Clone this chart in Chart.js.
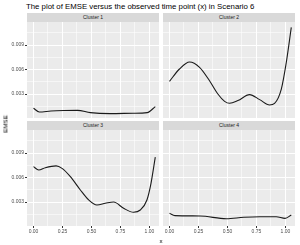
<!DOCTYPE html>
<html>
<head>
<meta charset="utf-8">
<script src="https://cdn.jsdelivr.net/npm/chart.js@4"></script>
<style>
  body { margin: 0; width: 300px; height: 245px; background: #fff; position: relative; overflow: hidden;
         font-family: "Liberation Sans", Arial, sans-serif; }
  canvas { position: absolute; }
  .strip { position: absolute; width: 132px; height: 9px; line-height: 9px; background: #D9D9D9;
           color: #1A1A1A; font-size: 5px; text-align: center; }
  #title { position: absolute; left: 26px; top: 2px; font-size: 7.8px; color: #000; white-space: nowrap; }
  #ylab { position: absolute; left: 4.5px; top: 124px; font-size: 6.2px; color: #000;
          transform: translate(-50%, -50%) rotate(-90deg); white-space: nowrap; }
  #xlab { position: absolute; left: 161px; top: 240px; font-size: 6.2px; color: #000;
          transform: translate(-50%, -50%); }
</style>
</head>
<body>
<div id="title">The plot of EMSE versus the observed time point (x) in Scenario 6</div>
<div class="strip" id="s1" style="left:27px;top:13px"></div>
<div class="strip" id="s2" style="left:163px;top:13px"></div>
<div class="strip" id="s3" style="left:27px;top:121px"></div>
<div class="strip" id="s4" style="left:163px;top:121px"></div>
<canvas id="p1" width="159" height="96" style="left:0;top:22px"></canvas>
<canvas id="p2" width="132" height="96" style="left:163px;top:22px"></canvas>
<canvas id="p3" width="159" height="115" style="left:0;top:130px"></canvas>
<canvas id="p4" width="132" height="115" style="left:163px;top:130px"></canvas>
<div id="ylab">EMSE</div>
<div id="xlab">x</div>
<script>
// тики осей
const xMajor = [0, 0.25, 0.5, 0.75, 1];
const xLabels = ['0.00', '0.25', '0.50', '0.75', '1.00'];
const xMinor = [0.125, 0.375, 0.625, 0.875];
const yMajor = [0.003, 0.006, 0.009];
const yLabels = ['0.003', '0.006', '0.009'];
const yMinor = [0.0015, 0.0045, 0.0075, 0.0105];

const clusters = ['Cluster 1', 'Cluster 2', 'Cluster 3', 'Cluster 4'];

// кривые по кластерам
const c1x = [0, 0.05, 0.15, 0.26, 0.38, 0.49, 0.66, 0.86, 0.98, 1.05];
const c1y = [0.00125, 0.0008, 0.00092, 0.00098, 0.001, 0.00072, 0.0006, 0.00064, 0.00072, 0.00145];

const c2x = [0, 0.086, 0.173, 0.259, 0.345, 0.417, 0.475, 0.518, 0.59, 0.69, 0.777, 0.863, 0.906, 0.964, 1.007, 1.05];
const c2y = [0.00455, 0.00606, 0.00692, 0.00627, 0.00463, 0.003, 0.0021, 0.00186, 0.00219, 0.00292, 0.00231, 0.00166, 0.00186, 0.00361, 0.00688, 0.01116];

const c3x = [0, 0.045, 0.102, 0.195, 0.246, 0.318, 0.404, 0.476, 0.547, 0.619, 0.691, 0.777, 0.863, 0.921, 0.978, 1.013, 1.05];
const c3y = [0.00733, 0.00692, 0.0072, 0.00742, 0.00712, 0.0061, 0.00447, 0.00325, 0.00264, 0.00284, 0.003, 0.00223, 0.00174, 0.00202, 0.00325, 0.00529, 0.0085];

const c4x = [0, 0.047, 0.263, 0.49, 0.64, 0.78, 0.92, 0.996, 1.05];
const c4y = [0.00162, 0.00133, 0.00129, 0.00095, 0.00113, 0.0012, 0.0012, 0.001, 0.00141];

clusters.forEach((name, i) => { document.getElementById('s' + (i + 1)).innerText = name; });

const panelBg = {
  id: 'panelBg',
  beforeDraw(chart) {
    const a = chart.chartArea, ctx = chart.ctx;
    ctx.save();
    ctx.fillStyle = '#EBEBEB';
    ctx.fillRect(a.left, a.top, a.right - a.left, a.bottom - a.top);
    ctx.restore();
  }
};

function isMajor(v, list) {
  return list.some(m => Math.abs(m - v) < 1e-9);
}

function tickFont() {
  return { family: "'Liberation Sans', Arial, sans-serif", size: 5 };
}

function makePanel(id, xs, ys, showX, showY) {
  const pts = xs.map((x, i) => ({ x: x, y: ys[i] }));
  return new Chart(document.getElementById(id), {
    type: 'line',
    data: {
      datasets: [{
        data: pts,
        borderColor: '#1A1A1A',
        borderWidth: 1.1,
        pointRadius: 0,
        cubicInterpolationMode: 'monotone',
        fill: false
      }]
    },
    options: {
      responsive: false,
      animation: false,
      events: [],
      layout: { padding: 0 },
      plugins: { legend: { display: false }, tooltip: { enabled: false } },
      scales: {
        x: {
          type: 'linear',
          min: -0.056,
          max: 1.082,
          afterBuildTicks: s => { s.ticks = xMajor.concat(xMinor).sort((a, b) => a - b).map(v => ({ value: v })); },
          afterFit: s => { s.height = showX ? 19 : 0; s.paddingLeft = 0; s.paddingRight = 0; },
          border: { display: false },
          grid: {
            color: c => (c.tick && isMajor(c.tick.value, xMajor)) ? '#FFFFFF' : 'rgba(255,255,255,0.55)',
            lineWidth: 1,
            drawTicks: showX,
            tickLength: 2,
            tickColor: c => (c.tick && isMajor(c.tick.value, xMajor)) ? '#333333' : 'rgba(0,0,0,0)'
          },
          ticks: {
            display: showX,
            autoSkip: false,
            maxRotation: 0,
            padding: 1,
            color: '#4D4D4D',
            font: tickFont(),
            callback: v => { const k = xMajor.findIndex(m => Math.abs(m - v) < 1e-9); return k >= 0 ? xLabels[k] : ''; }
          }
        },
        y: {
          type: 'linear',
          min: 0.00006,
          max: 0.01182,
          afterBuildTicks: s => { s.ticks = yMinor.concat(yMajor).sort((a, b) => a - b).map(v => ({ value: v })); },
          afterFit: s => { s.width = showY ? 27 : 0; s.paddingTop = 0; s.paddingBottom = 0; },
          border: { display: false },
          grid: {
            color: c => (c.tick && isMajor(c.tick.value, yMajor)) ? '#FFFFFF' : 'rgba(255,255,255,0.55)',
            lineWidth: 1,
            drawTicks: showY,
            tickLength: 2,
            tickColor: c => (c.tick && isMajor(c.tick.value, yMajor)) ? '#333333' : 'rgba(0,0,0,0)'
          },
          ticks: {
            display: showY,
            autoSkip: false,
            padding: 1,
            color: '#4D4D4D',
            font: tickFont(),
            callback: v => { const k = yMajor.findIndex(m => Math.abs(m - v) < 1e-9); return k >= 0 ? yLabels[k] : ''; }
          }
        }
      }
    },
    plugins: [panelBg]
  });
}

makePanel('p1', c1x, c1y, false, true);
makePanel('p2', c2x, c2y, false, false);
makePanel('p3', c3x, c3y, true, true);
makePanel('p4', c4x, c4y, true, false);
</script>
</body>
</html>
